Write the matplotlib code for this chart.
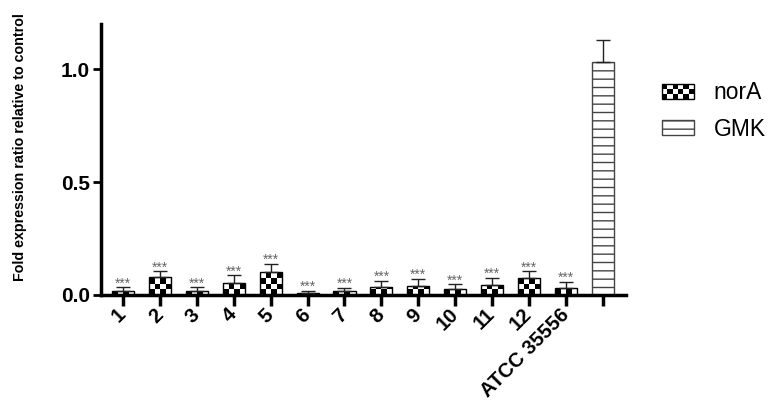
import numpy as np
import matplotlib
matplotlib.use('Agg')
import matplotlib.pyplot as plt
from matplotlib.patches import Rectangle, Patch

plt.rcParams['font.family'] = ['Liberation Sans', 'DejaVu Sans']

# data
labels = ['1', '2', '3', '4', '5', '6', '7', '8', '9', '10', '11', '12', 'ATCC 35556', '']
values = [0.019, 0.081, 0.016, 0.052, 0.100, 0.010, 0.019, 0.034, 0.040, 0.025, 0.043, 0.074, 0.030, 1.03]
errors = [0.015, 0.024, 0.018, 0.035, 0.037, 0.009, 0.013, 0.028, 0.032, 0.022, 0.032, 0.031, 0.029, 0.10]
genes = ['norA'] * 13 + ['GMK']
stars = ['***'] * 13 + ['']

fig = plt.figure(figsize=(7.7, 4.03), dpi=100)
ax = fig.add_axes([101/770, 108/403, 525/770, 271/403])

x = np.arange(len(values))
width = 0.6
ax.set_xlim(-0.6, 13.63)
ax.set_ylim(0, 1.2)

bars = ax.bar(x, values, width=width, facecolor='white', edgecolor='black', linewidth=1.0, zorder=2)

# checkerboard fill for norA bars, horizontal lines for GMK
cell_px = 5.5
px_per_y = ax.transData.transform((0, 1))[1] - ax.transData.transform((0, 0))[1]
cell_h = cell_px / px_per_y
for b, g in zip(bars, genes):
    if g == 'GMK':
        b.set_hatch('--')
        b.set_edgecolor('#444444')
        continue
    h = b.get_height()
    nrows = int(np.ceil(h / cell_h)) + 1
    ncols = 4
    board = np.indices((nrows, ncols)).sum(axis=0) % 2
    x0 = b.get_x()
    im = ax.imshow(board[::-1], cmap='gray', vmin=0, vmax=1, interpolation='nearest',
                   extent=(x0, x0 + b.get_width(), 0, nrows * cell_h), aspect='auto', zorder=1.5)
    im.set_clip_path(b)
    b.set_facecolor('none')

ax.set_xlim(-0.6, 13.63)
ax.set_ylim(0, 1.2)

ax.errorbar(x, values, yerr=[np.zeros(len(errors)), errors], fmt='none', ecolor='#222222',
            elinewidth=1.0, capsize=5, capthick=1.0, zorder=3)

for xi, v, e, s in zip(x, values, errors, stars):
    if s:
        ax.annotate(s, (xi, v + e), xytext=(0, 0), textcoords='offset points',
                    ha='center', va='baseline', fontsize=10, color='#666666')

for sp in ['top', 'right']:
    ax.spines[sp].set_visible(False)
for sp in ['left', 'bottom']:
    ax.spines[sp].set_linewidth(2.5)

ax.set_yticks([0, 0.5, 1.0])
ax.set_yticklabels(['0.0', '0.5', '1.0'], fontsize=15, fontweight='bold')
ax.tick_params(axis='y', direction='out', length=6, width=2, pad=2)
ax.set_xticks(x)
ax.set_xticklabels(labels, fontsize=14.5, fontweight='bold', rotation=45,
                   ha='right', va='center', rotation_mode='anchor')
ax.tick_params(axis='x', direction='out', length=8, width=2.5, pad=4)

ax.set_ylabel('Fold expression ratio relative to control', fontsize=10.3, fontweight='bold')
ax.yaxis.set_label_coords(-0.14, 0.545)


class CheckerHandler:
    def legend_artist(self, legend, orig_handle, fontsize, handlebox):
        x0, y0 = handlebox.xdescent, handlebox.ydescent
        w, h = handlebox.width, handlebox.height
        nx, ny = 6, 3
        tr = handlebox.get_transform()
        for i in range(nx):
            for j in range(ny):
                if (i + j) % 2 == 0:
                    handlebox.add_artist(Rectangle((x0 + i * w / nx, y0 + j * h / ny), w / nx, h / ny,
                                                   facecolor='black', lw=0, transform=tr))
        border = Rectangle((x0, y0), w, h, facecolor='none', edgecolor='black', lw=1, transform=tr)
        handlebox.add_artist(border)
        return border


h_nora = Patch(facecolor='white', edgecolor='black', label='norA')
h_gmk = Patch(facecolor='white', edgecolor='#444444', hatch='--', label='GMK')
fig.legend([h_nora, h_gmk], ['norA', 'GMK'], handler_map={h_nora: CheckerHandler()},
           loc='upper left', bbox_to_anchor=(662/770, 1 - 81/403), frameon=False, fontsize=16.5,
           handlelength=1.4, handleheight=0.65, labelspacing=0.6, handletextpad=0.85,
           borderpad=0, borderaxespad=0)

fig.savefig('out.png', dpi=100)
